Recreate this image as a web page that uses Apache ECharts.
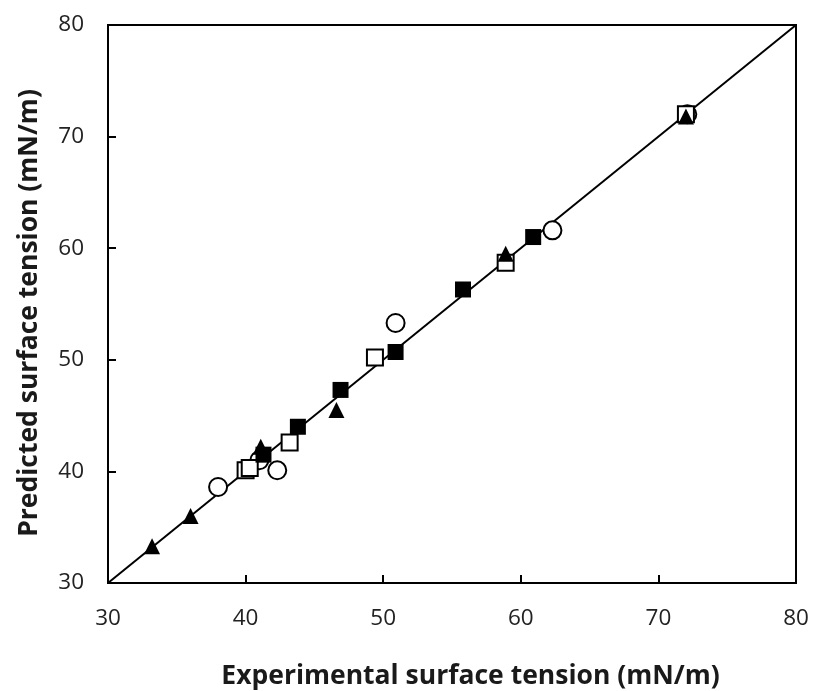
<!DOCTYPE html>
<html><head><meta charset="utf-8">
<script src="https://cdn.jsdelivr.net/npm/echarts@6/dist/echarts.min.js"></script>
<style>html,body{margin:0;padding:0;background:#fff}#c{width:814px;height:691px}</style>
</head><body><div id="c"></div>
<script>
var xTicks = [30, 40, 50, 60, 70, 80];
var yTicks = [30, 40, 50, 60, 70, 80];
var parityLine = [[30, 30], [80, 80]];
var filledTriangles = [[33.2, 33.3], [36.0, 36.0], [41.1, 42.2], [46.6, 45.5], [58.9, 59.5], [72.0, 71.8]];
var filledSquares = [[41.3, 41.5], [43.8, 44.0], [46.9, 47.3], [50.9, 50.7], [55.8, 56.3], [60.9, 61.0]];
var openSquares = [[40.0, 40.1], [40.3, 40.3], [43.2, 42.6], [49.4, 50.2], [58.9, 58.7], [72.0, 72.0]];
var openCircles = [[38.0, 38.6], [41.0, 41.0], [42.3, 40.1], [50.9, 53.3], [62.3, 61.6], [72.1, 72.0]];

var chart = echarts.init(document.getElementById('c'));
var font = "'Open Sans', 'Noto Sans', sans-serif";
function axis(name, gap, margin, ticks, namePad) {
  return {
    type: 'value', min: ticks[0], max: ticks[ticks.length - 1], interval: ticks[1] - ticks[0],
    name: name, nameLocation: 'middle', nameGap: gap,
    nameTextStyle: {fontFamily: font, fontSize: 26.5, fontWeight: 'bold', color: '#1a1a1a', padding: namePad},
    axisLine: {show: true, onZero: false, lineStyle: {color: '#000', width: 2}},
    axisTick: {show: true, inside: true, length: 8, lineStyle: {color: '#000', width: 2}},
    axisLabel: {fontFamily: font, fontSize: 22.5, color: '#222', margin: margin},
    splitLine: {show: false}
  };
}
var xa = axis('Experimental surface tension (mN/m)', 80, 24, xTicks, [0, 0, 0, 37]);
var ya = axis('Predicted surface tension (mN/m)', 65, 24, yTicks, [0, 18, 0, 0]);
chart.setOption({
  animation: false,
  grid: {left: 108, right: 18, top: 25, bottom: 108, show: true, borderColor: '#000', borderWidth: 2,
         containLabel: false, outerBoundsMode: 'none'},
  xAxis: xa,
  yAxis: ya,
  series: [
    {type: 'line', data: parityLine, symbol: 'none', lineStyle: {color: '#000', width: 2}, z: 1},
    {type: 'scatter', data: openCircles, symbol: 'circle', symbolSize: 18,
     itemStyle: {color: '#fff', borderColor: '#000', borderWidth: 2, opacity: 1}, z: 2},
    {type: 'scatter', data: openSquares, symbol: 'rect', symbolSize: 16,
     itemStyle: {color: '#fff', borderColor: '#000', borderWidth: 2, opacity: 1}, z: 3},
    {type: 'scatter', data: filledSquares, symbol: 'rect', symbolSize: 16,
     itemStyle: {color: '#000', opacity: 1}, z: 4},
    {type: 'scatter', data: filledTriangles, symbol: 'triangle', symbolSize: 16,
     itemStyle: {color: '#000', opacity: 1}, z: 5}
  ]
});
</script></body></html>
